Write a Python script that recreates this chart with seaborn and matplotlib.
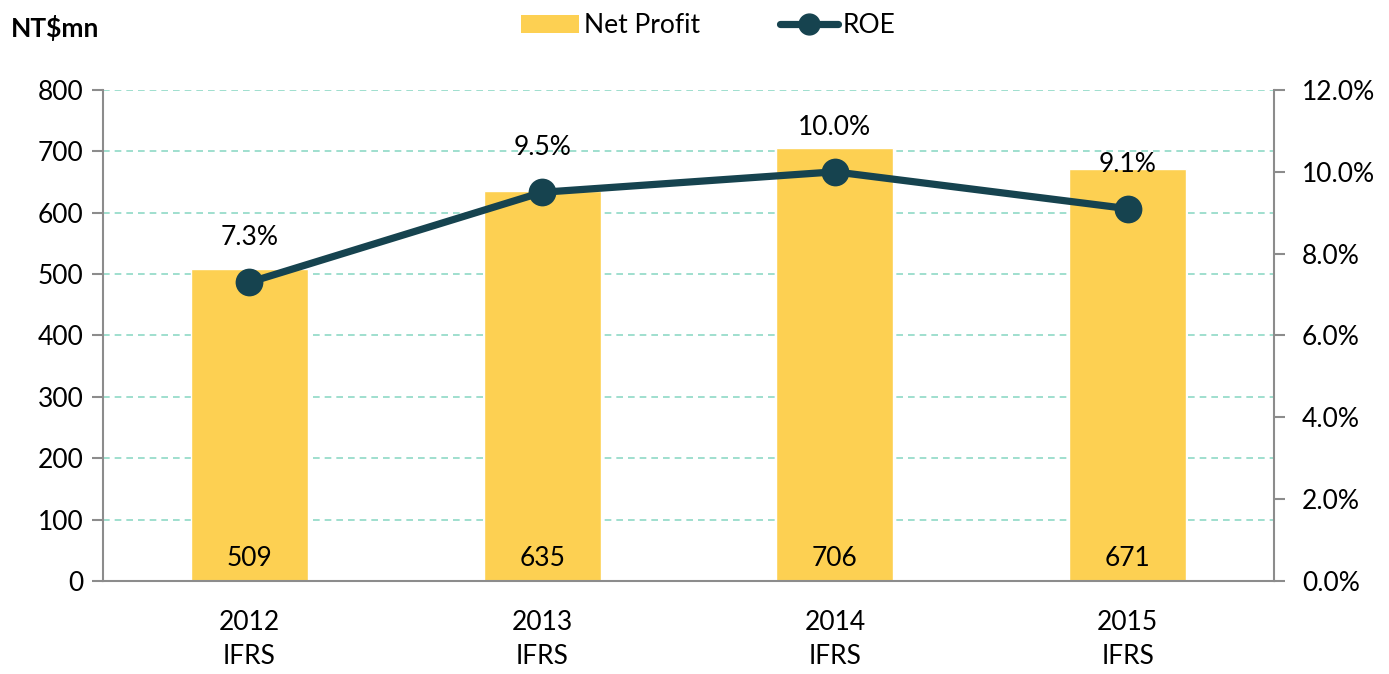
import numpy as np
import pandas as pd
import seaborn as sns
import matplotlib.pyplot as plt
from matplotlib.patches import Patch
from matplotlib.lines import Line2D
from matplotlib.ticker import FuncFormatter, FixedLocator

# data
years = ["2012", "2013", "2014", "2015"]
basis = ["IFRS", "IFRS", "IFRS", "IFRS"]
net_profit = [509, 635, 706, 671]
roe = [7.3, 9.5, 10.0, 9.1]

bar_color = "#FDD052"
line_color = "#16434F"
grid_color = "#8FD9C6"
spine_color = "#8C8C8C"
fs = 19

sns.set_theme(style="white")
plt.rcParams['font.family'] = ['Lato', 'DejaVu Sans']
plt.rcParams['text.color'] = 'black'
plt.rcParams['xtick.color'] = 'black'
plt.rcParams['ytick.color'] = 'black'

df = pd.DataFrame({"year": years, "profit": net_profit, "roe": roe})

fig = plt.figure(figsize=(13.89, 6.74), dpi=100)
ax = fig.add_axes([0.0742, 0.138, 0.843, 0.7285])

sns.barplot(data=df, x="year", y="profit", color=bar_color, width=0.4,
            saturation=1, ax=ax, zorder=2)
ax.set_xlim(-0.5, 3.5)
ax.set_ylim(0, 800)
ax.set_yticks(range(0, 801, 100))
ax.set_xlabel("")
ax.set_ylabel("")
ax.set_xticks(range(4))
ax.set_xticklabels([f"{y}\n{b}" for y, b in zip(years, basis)], linespacing=1.45)
ax.xaxis.set_minor_locator(FixedLocator(np.arange(-0.5, 4, 1)))
ax.tick_params(axis="x", which="major", length=0, pad=21, labelsize=fs)
ax.tick_params(axis="x", which="minor", length=8, width=1.5, color=spine_color, direction="out")
ax.tick_params(axis="y", length=8, width=1.5, color=spine_color, direction="out", labelsize=fs, pad=6)

for v in range(100, 801, 100):
    ax.axhline(v, color=grid_color, linestyle=(0, (4, 3)), linewidth=1.2, zorder=1)

for s in ["top", "right"]:
    ax.spines[s].set_visible(False)
for s in ["left", "bottom"]:
    ax.spines[s].set_color(spine_color)
    ax.spines[s].set_linewidth(1.5)

for i, v in enumerate(net_profit):
    ax.text(i, 36, str(v), ha="center", va="center", fontsize=fs, zorder=3)

ax2 = ax.twinx()
sns.lineplot(x=range(4), y=roe, ax=ax2, color=line_color, linewidth=5.2,
             marker="o", markersize=20, markeredgewidth=0, zorder=4)
ax2.set_ylim(0, 12)
ax2.set_yticks(range(0, 13, 2))
ax2.yaxis.set_major_formatter(FuncFormatter(lambda v, p: f"{v:.1f}%"))
ax2.tick_params(axis="y", length=8, width=1.5, color=spine_color, direction="out", labelsize=fs, pad=12)
for s in ["top", "left", "bottom"]:
    ax2.spines[s].set_visible(False)
ax2.spines["right"].set_color(spine_color)
ax2.spines["right"].set_linewidth(1.5)

for i, v in enumerate(roe):
    ax2.annotate(f"{v:.1f}%", (i, v), xytext=(0, 32), textcoords="offset points",
                 ha="center", va="center", fontsize=fs)

fig.text(0.008, 0.958, "NT$mn", fontsize=fs, fontweight="bold", ha="left", va="center")

handles = [Patch(facecolor=bar_color, edgecolor="none"),
           Line2D([0], [0], color=line_color, linewidth=5.2, marker="o", markersize=15)]
fig.legend(handles, ["Net Profit", "ROE"], loc="center", bbox_to_anchor=(0.51, 0.962),
           ncol=2, frameon=False, fontsize=fs, handlelength=2.2, handletextpad=0.2,
           columnspacing=3.0)

fig.savefig("out.png", dpi=100)
